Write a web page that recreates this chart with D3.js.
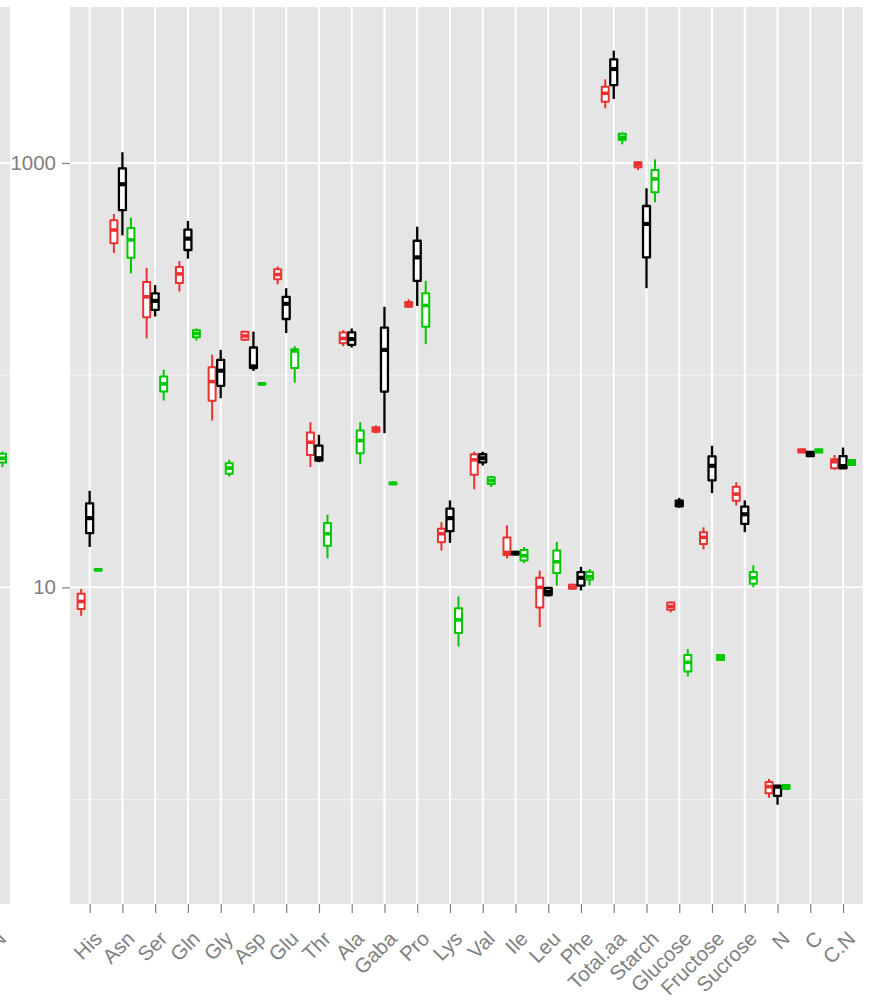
<!DOCTYPE html>
<html>
<head>
<meta charset="utf-8">
<script src="https://cdn.jsdelivr.net/npm/d3@7"></script>
<style>
  html, body { margin: 0; padding: 0; background: #ffffff; }
  svg { display: block; }
  text { font-family: "Liberation Sans", Arial, Helvetica, sans-serif; }
</style>
</head>
<body>
<svg id="chart" width="871" height="1002"></svg>
<script>
// ---- data ---------------------------------------------------------------
const categories = ["His", "Asn", "Ser", "Gln", "Gly", "Asp", "Glu", "Thr", "Ala", "Gaba",
  "Pro", "Lys", "Val", "Ile", "Leu", "Phe", "Total.aa", "Starch", "Glucose", "Fructose",
  "Sucrose", "N", "C", "C.N"];

const groupNames = ["red", "black", "green"];

// five-number summaries per category: [lower whisker, Q1, median, Q3, upper whisker]
const redStats = [
  [7.35, 7.90, 8.58, 9.33, 9.82],
  [376, 419, 483, 537, 575],
  [149, 187.5, 234, 275, 320],
  [248, 272, 300, 323, 345],
  [61.1, 75.7, 93.3, 109, 125],
  [145, 147, 153, 160, 162],
  [268, 283, 298, 316, 325],
  [36.9, 42.0, 48.3, 53.7, 60.1],
  [137, 141.5, 149, 159, 163],
  [53.2, 54.1, 55.5, 56.9, 58.0],
  [207.5, 210, 216, 221, 228],
  [14.9, 16.3, 17.9, 18.9, 20.3],
  [29.0, 33.9, 39.9, 42.4, 43.6],
  [13.7, 14.2, 14.6, 17.2, 19.6],
  [6.50, 8.04, 10.0, 11.1, 12.0],
  [9.75, 9.85, 10.0, 10.3, 10.4],
  [1810, 1944, 2130, 2288, 2479],
  [927, 955, 982, 1008, 1019],
  [7.62, 7.84, 8.13, 8.49, 8.58],
  [15.1, 16.0, 17.2, 18.2, 19.2],
  [24.3, 25.6, 27.5, 29.8, 31.3],
  [1.02, 1.07, 1.15, 1.21, 1.25],
  [43.0, 43.2, 44.0, 44.8, 45.0],
  [35.8, 36.4, 39.1, 40.2, 42.0]
];

const blackStats = [
  [15.5, 18.0, 21.2, 24.9, 28.5],
  [456, 599, 794, 944, 1123],
  [189, 203, 224, 243, 266],
  [354, 389, 440, 485, 533],
  [77.9, 89.1, 105, 118, 131.6],
  [104.7, 108, 110, 135, 160.5],
  [158, 184, 217, 234, 257],
  [38.9, 39.6, 40.6, 46.6, 52.3],
  [135, 139, 148, 159, 166],
  [53.3, 83.7, 131.6, 167.5, 210],
  [212, 278, 359, 430, 501],
  [16.2, 18.4, 21.2, 23.5, 25.7],
  [37.5, 38.8, 40.6, 42.4, 43.6],
  [14.1, 14.3, 14.5, 14.7, 14.9],
  [9.06, 9.20, 9.53, 9.93, 10.0],
  [9.67, 10.2, 11.1, 11.8, 12.5],
  [2002, 2329, 2772, 3079, 3381],
  [257, 359, 516, 627, 760],
  [23.7, 24.1, 24.8, 25.6, 26.4],
  [27.8, 31.9, 37.4, 41.4, 46.5],
  [18.2, 19.9, 22.1, 24.0, 25.7],
  [0.946, 1.04, 1.15, 1.16, 1.16],
  [41.3, 41.5, 42.5, 43.5, 43.7],
  [36.3, 36.4, 37.3, 41.5, 45.6]
];

const greenStats = [
  [11.9, 12.0, 12.1, 12.2, 12.3],
  [302, 358, 434, 494, 552],
  [75.9, 83.7, 91.0, 98.5, 106],
  [145.5, 151, 157, 163, 166],
  [33.3, 34.3, 36.5, 38.5, 39.9],
  [89.5, 90.3, 91.0, 91.5, 92.0],
  [92.3, 108, 130, 132.6, 137],
  [13.7, 15.7, 17.9, 20.1, 22.0],
  [38.2, 42.9, 49.2, 54.8, 60.1],
  [30.3, 30.6, 30.9, 31.2, 31.5],
  [140, 169, 213, 243, 278],
  [5.27, 6.09, 7.03, 7.98, 9.06],
  [29.7, 30.7, 31.8, 33.0, 33.6],
  [13.0, 13.4, 14.1, 15.0, 15.5],
  [10.2, 11.7, 13.2, 14.9, 16.4],
  [10.2, 10.9, 11.25, 11.8, 12.2],
  [1225, 1283, 1322, 1374, 1396],
  [653, 728, 841, 927, 1041],
  [3.80, 4.01, 4.43, 4.80, 5.12],
  [4.50, 4.55, 4.68, 4.80, 4.85],
  [10.0, 10.4, 11.1, 11.8, 12.7],
  [1.11, 1.12, 1.145, 1.17, 1.18],
  [43.0, 43.2, 44.0, 44.8, 45.0],
  [37.5, 37.7, 38.8, 39.8, 40.0]
];

// neighbouring facet, only its last category reaches into view
const leftCategories = ["C.N"];
const leftGreenStats = [[36.9, 38.8, 40.6, 42.6, 43.6]];

const yMajorTicks = [10, 1000];
const yMinorTicks = [1, 100];
const yDomain = [0.322, 5433];

// ---- layout -------------------------------------------------------------
const svg = d3.select("#chart");
const panel = { left: 70, right: 862.7, top: 7, bottom: 904 };
const leftPanel = { left: -60, right: 10 };
const colors = { red: "#EB3232", black: "#000000", green: "#00C800" };
const textGrey = "#808080";
const labelSize = "20.5px";

const y = d3.scaleLog().domain(yDomain).range([panel.bottom, panel.top]);

const x = d3.scalePoint()
  .domain(categories)
  .range([panel.left, panel.right])
  .padding(0.6);
const step = x.step();

const dodge = d3.scaleBand()
  .domain(groupNames)
  .range([-0.39 * step, 0.39 * step]);
const boxW = dodge.bandwidth() * 0.82;

// left neighbour facet's x scale (its last category sits just off the edge)
const xLeft = d3.scalePoint()
  .domain(leftCategories)
  .range([-6, -6]);

// ---- panels & grid ------------------------------------------------------
function drawPanelBackground(x0, x1, catScale, cats) {
  const g = svg.append("g");
  g.append("rect")
    .attr("x", x0).attr("y", panel.top)
    .attr("width", x1 - x0).attr("height", panel.bottom - panel.top)
    .attr("fill", "#E5E5E5");
  g.selectAll("line.minor").data(yMinorTicks).join("line")
    .attr("class", "minor")
    .attr("x1", x0).attr("x2", x1)
    .attr("y1", d => y(d)).attr("y2", d => y(d))
    .attr("stroke", "#F2F2F2").attr("stroke-width", 1.2);
  g.selectAll("line.major").data(yMajorTicks).join("line")
    .attr("class", "major")
    .attr("x1", x0).attr("x2", x1)
    .attr("y1", d => y(d)).attr("y2", d => y(d))
    .attr("stroke", "#FFFFFF").attr("stroke-width", 2);
  g.selectAll("line.vert").data(cats).join("line")
    .attr("class", "vert")
    .attr("x1", d => catScale(d)).attr("x2", d => catScale(d))
    .attr("y1", panel.top).attr("y2", panel.bottom)
    .attr("stroke", "#FFFFFF").attr("stroke-width", 2);
  return g;
}

svg.append("defs").append("clipPath").attr("id", "leftClip")
  .append("rect")
  .attr("x", leftPanel.left).attr("y", panel.top)
  .attr("width", leftPanel.right - leftPanel.left)
  .attr("height", panel.bottom - panel.top);

drawPanelBackground(leftPanel.left, leftPanel.right, xLeft, leftCategories);
drawPanelBackground(panel.left, panel.right, x, categories);

// ---- boxplots -----------------------------------------------------------
function drawBoxes(layer, stats, catList, catScale, offset, color, lw) {
  const rows = stats.map((s, i) => ({ cat: catList[i], lo: s[0], q1: s[1], med: s[2], q3: s[3], hi: s[4] }));
  const gb = layer.selectAll("g.box").data(rows).join("g")
    .attr("class", "box")
    .attr("transform", d => `translate(${catScale(d.cat) + offset},0)`);
  gb.append("line")
    .attr("x1", 0).attr("x2", 0)
    .attr("y1", d => y(d.hi)).attr("y2", d => y(d.q3))
    .attr("stroke", color).attr("stroke-width", lw);
  gb.append("line")
    .attr("x1", 0).attr("x2", 0)
    .attr("y1", d => y(d.q1)).attr("y2", d => y(d.lo))
    .attr("stroke", color).attr("stroke-width", lw);
  gb.append("rect")
    .attr("x", -boxW / 2).attr("width", boxW)
    .attr("y", d => y(d.q3))
    .attr("height", d => Math.max(0.01, y(d.q1) - y(d.q3)))
    .attr("fill", "#FFFFFF")
    .attr("stroke", color).attr("stroke-width", lw)
    .attr("stroke-linejoin", "round");
  gb.append("line")
    .attr("x1", -boxW / 2).attr("x2", boxW / 2)
    .attr("y1", d => y(d.med)).attr("y2", d => y(d.med))
    .attr("stroke", color).attr("stroke-width", lw * 1.8);
}

const leftLayer = svg.append("g").attr("clip-path", "url(#leftClip)");
drawBoxes(leftLayer, leftGreenStats, leftCategories, xLeft, dodge("green") + dodge.bandwidth() / 2, colors.green, 2);

const statsByGroup = { red: redStats, black: blackStats, green: greenStats };
groupNames.forEach(gname => {
  const layer = svg.append("g");
  drawBoxes(layer, statsByGroup[gname], categories, x,
    dodge(gname) + dodge.bandwidth() / 2, colors[gname], gname === "black" ? 2.3 : 2);
});

// ---- axes ---------------------------------------------------------------
const yAxis = svg.append("g")
  .attr("transform", `translate(${panel.left},0)`)
  .call(d3.axisLeft(y).tickValues(yMajorTicks).tickFormat(d3.format("d")).tickSize(8).tickPadding(6));
yAxis.select(".domain").remove();
yAxis.selectAll(".tick line").attr("stroke", textGrey).attr("stroke-width", 1.2);
yAxis.selectAll(".tick text")
  .attr("fill", textGrey)
  .style("font-size", labelSize)
  .style("font-family", "'Liberation Sans', Arial, sans-serif");

function drawXAxis(catScale, cats) {
  const gx = svg.append("g")
    .attr("transform", `translate(0,${panel.bottom})`)
    .call(d3.axisBottom(catScale).tickValues(cats).tickSize(9));
  gx.select(".domain").remove();
  gx.selectAll(".tick line").attr("stroke", textGrey).attr("stroke-width", 1.2);
  gx.selectAll(".tick text")
    .attr("fill", textGrey)
    .attr("x", 0).attr("y", 0).attr("dy", null)
    .attr("text-anchor", "end")
    .attr("transform", "translate(13,36) rotate(-45)")
    .style("font-size", labelSize)
    .style("font-family", "'Liberation Sans', Arial, sans-serif");
  return gx;
}
drawXAxis(xLeft, leftCategories);
drawXAxis(x, categories);
</script>
</body>
</html>
